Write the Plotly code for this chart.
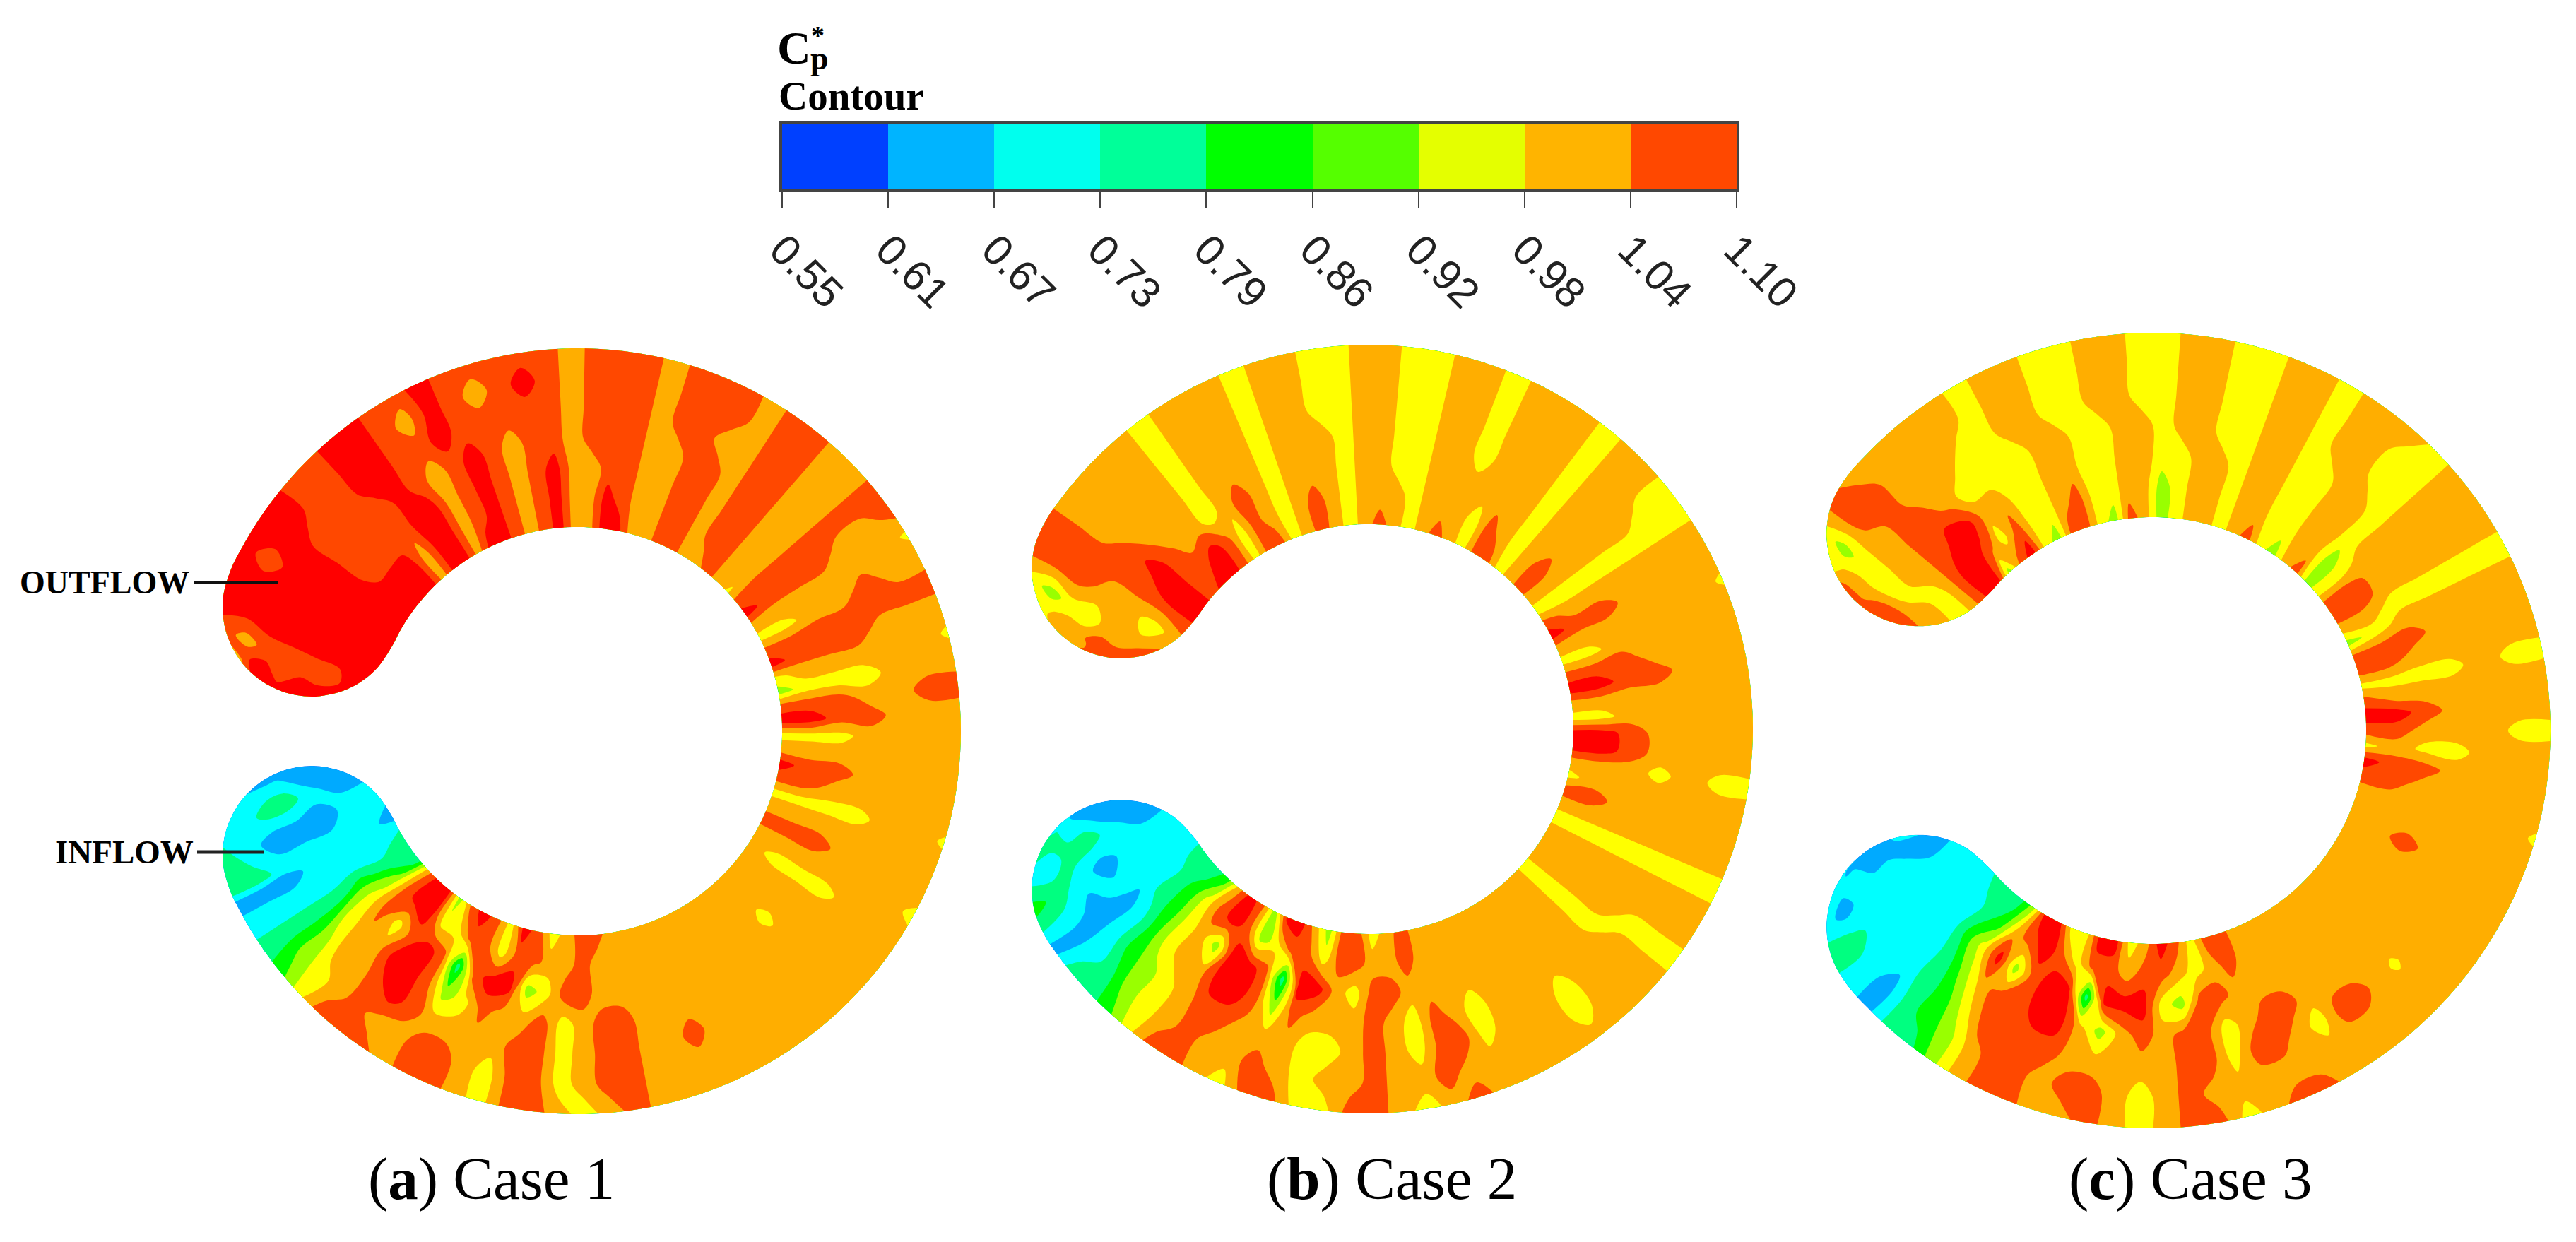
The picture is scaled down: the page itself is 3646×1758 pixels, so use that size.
import numpy as np
import plotly.graph_objects as go

# ---------- data ----------
# Each string = one radial ray, inner edge -> outer edge; each character is the Cp* read there.
# Digits are the colour bands; "a" and "b" are values only just inside the yellow band (thin streaks).
CP_BANDS = {"0": 0.581, "1": 0.642, "2": 0.703, "3": 0.764, "4": 0.825, "5": 0.886, "6": 0.947,
            "7": 1.008, "8": 1.069, "9": 1.130, "a": 0.968, "b": 0.959}
TICK_LABELS = ["0.55", "0.61", "0.67", "0.73", "0.79", "0.86", "0.92", "0.98", "1.04", "1.10"]
CAPTIONS = ["Case 1", "Case 2", "Case 3"]

CAP_TOP_1 = ["9999999", "9999999", "9998997", "9888878", "9999999"]
RAYS_1 = ["9999999", "9999989", "9999999", "9988899", "9988888", "9988888", "7788999", "9999999",
          "9998888", "7777878", "9888999", "9999888", "8888878", "7777888", "8888898", "9998888",
          "7777777", "7778888", "9988888", "9888888", "7777777", "7777888", "8888888", "8888788",
          "7777777", "7888888", "8888888", "7777777", "a777777", "8888888", "9888778", "777777a",
          "bb77877", "8888888", "9888777", "b77777a", "5666777", "8887788", "9988777", "bbb7777",
          "7777777", "9887777", "8877777", "bbbb77a", "7777777", "8887777", "777777b", "7bbb777",
          "7777777", "7777777", "77b7777", "7777777", "7777777", "7777777", "7777777", "7777777",
          "7777877", "7777777", "7777777", "7778888", "8778887", "8887776", "7786667", "6768888",
          "8857888", "9897766", "6698777", "8886788", "9835788", "8688877", "5699978", "9989888",
          "9967778", "7887766", "3566554", "3343333", "3222222", "2222111", "1222233"]
CAP_BOT_1 = ["2211123", "1123322", "1112222", "1111111", "1111111"]

CAP_TOP_2 = ["7777777", "8877777", "8887776", "8776656", "7677888"]
RAYS_2 = ["9988888", "9998777", "8887777", "9877777", "9977777", "8866666", "6677777", "8887777",
          "8777777", "6666666", "7777777", "8877777", "7777666", "6666666", "7777777", "8777777",
          "7766666", "6666666", "7777777", "8777777", "7776666", "6677777", "8877777", "8777777",
          "6666666", "7777777", "8877777", "7777766", "6666666", "8777777", "9887777", "777777a",
          "bb77777", "8887777", "9988777", "7777777", "bb77777", "9987777", "9987777", "777b7bb",
          "b777777", "8877777", "7777777", "6666666", "7777777", "7777777", "7777666", "6666777",
          "7777777", "7777777", "7777667", "7777777", "7777777", "7777777", "7776677", "7777878",
          "7778887", "8876676", "7787777", "6788888", "8867778", "8877676", "5697666", "7898778",
          "9835788", "9688776", "5599877", "8899888", "9957778", "7877666", "4666554", "3444433",
          "3332223", "3221111", "2222122"]
CAP_BOT_2 = ["2221234", "1123322", "1112233", "1111222", "1111122"]

CAP_TOP_3 = ["8888888", "8888888", "8887776", "7766656", "6677788"]
RAYS_3 = ["9988887", "9998777", "5897777", "8676777", "9876677", "6666666", "5666777", "8777777",
          "8877666", "6666666", "5666777", "8777777", "7777666", "5566666", "6667777", "7777777",
          "7776666", "6666666", "7777777", "8777777", "6666666", "5666777", "7777777", "8777667",
          "5566666", "6677777", "8877777", "8877777", "7766666", "5677777", "8887777", "8877777",
          "bbbb7bb", "8777777", "9987777", "88777bb", "b7bb777", "9887777", "8877777", "777777a",
          "7777777", "7787777", "7777777", "7777777", "7777777", "7777777", "7777a77", "7777777",
          "7777877", "7777877", "7777677", "7778778", "7778878", "8877877", "8786676", "6688878",
          "8758888", "9867777", "7898766", "6797777", "9895788", "9837787", "6699877", "6899888",
          "9988888", "9858877", "5797655", "3465443", "3343333", "3222211", "2222222"]
CAP_BOT_3 = ["2222233", "1122212", "2111222", "1111112", "1111112"]

# ray angles, degrees clockwise from straight up
THETA_1 = list(range(-65, 244, 4)) + [245]
THETA_2 = list(range(-57, 236, 4)) + [237]
THETA_3 = list(range(-50, 231, 4))

# ---------- styles and layout ----------
W, H = 3646, 1758
MAP_COLORS = ["#0040ff", "#00aaff", "#00ffff", "#00ff80", "#00ff00",
              "#99ff00", "#ffff00", "#ffae00", "#ff4800", "#ff0000"]
BAR_COLORS = ["#0040ff", "#00b4ff", "#00ffee", "#00ff99", "#00ff00",
              "#55ff00", "#e4ff00", "#ffb400", "#ff4800"]
LEVEL0, LEVEL_STEP = 0.55, 0.0611
PHI_TOP = [88, 75, 60, 40, 20]
PHI_BOT = [20, 40, 60, 75, 88]
RINGS = [
    dict(cx=818, cy=1035, R=542, r=289, cap_top=CAP_TOP_1, rays=RAYS_1, cap_bot=CAP_BOT_1, theta=THETA_1),
    dict(cx=1937, cy=1032, R=544, r=290, cap_top=CAP_TOP_2, rays=RAYS_2, cap_bot=CAP_BOT_2, theta=THETA_2),
    dict(cx=3047, cy=1034, R=563, r=302, cap_top=CAP_TOP_3, rays=RAYS_3, cap_bot=CAP_BOT_3, theta=THETA_3),
]


def stepped(colors):
    n = len(colors)
    out = []
    for i, c in enumerate(colors):
        out += [[i / n, c], [(i + 1) / n, c]]
    return out


def ring_grid(g):
    """Carpet nodes of the C shape: radial rays plus chords across the two round ends."""
    rm, rc = (g["R"] + g["r"]) / 2, (g["R"] - g["r"]) / 2
    s = np.linspace(-1, 1, 7)

    def ray(t):
        t = np.radians(t)
        return g["cx"] + (rm + rc * s) * np.sin(t), g["cy"] - (rm + rc * s) * np.cos(t)

    def chord(t, phi, sign):
        t, phi = np.radians(t), np.radians(phi)
        ux, uy = np.sin(t), -np.cos(t)
        vx, vy = sign * np.cos(t), sign * np.sin(t)
        x = g["cx"] + rm * ux + rc * (s * np.cos(phi) * ux + np.sin(phi) * vx)
        y = g["cy"] + rm * uy + rc * (s * np.cos(phi) * uy + np.sin(phi) * vy)
        return x, y

    th = g["theta"]
    nodes = [chord(th[0], p, -1) for p in PHI_TOP] + [ray(t) for t in th] + [chord(th[-1], p, 1) for p in PHI_BOT]
    rows = g["cap_top"] + g["rays"] + g["cap_bot"]
    assert len(nodes) == len(rows), (len(nodes), len(rows))
    x = np.array([n[0] for n in nodes])
    y = np.array([n[1] for n in nodes])
    z = np.array([[CP_BANDS[c] for c in row] for row in rows])
    return x, y, z


fig = go.Figure()
hidden = dict(showgrid=False, showticklabels="none", showline=False, startline=False, endline=False,
              minorgridcount=0, smoothing=1, color="rgba(0,0,0,0)",
              gridcolor="rgba(0,0,0,0)", linecolor="rgba(0,0,0,0)")
for i, g in enumerate(RINGS):
    x, y, z = ring_grid(g)
    a = list(range(x.shape[1]))
    b = list(range(x.shape[0]))
    fig.add_trace(go.Carpet(carpet=f"c{i}", a=a, b=b, x=x.tolist(), y=y.tolist(),
                            aaxis=hidden, baxis=hidden, xaxis="x", yaxis="y"))
    fig.add_trace(go.Contourcarpet(
        carpet=f"c{i}", a=a, b=b, z=z.tolist(), autocontour=False,
        contours=dict(start=LEVEL0 + LEVEL_STEP, end=LEVEL0 + 9 * LEVEL_STEP, size=LEVEL_STEP, coloring="fill"),
        line=dict(width=0, smoothing=1.0), colorscale=stepped(MAP_COLORS),
        zmin=LEVEL0, zmax=LEVEL0 + 10 * LEVEL_STEP, showscale=False, xaxis="x", yaxis="y"))

# colour bar as its own small axes
fig.add_trace(go.Heatmap(x=list(range(10)), y=[0, 1], z=[list(range(9))], xaxis="x2", yaxis="y2",
                         colorscale=stepped(BAR_COLORS), zmin=-0.5, zmax=8.5, showscale=False, hoverinfo="skip"))

serif = "Liberation Serif"
notes = [
    dict(x=1098, y=67, text="<b>C</b>", size=66, anchor="left"),
    dict(x=1146, y=50, text="<b>*</b>", size=38, anchor="left"),
    dict(x=1145, y=82, text="<b>p</b>", size=46, anchor="left"),
    dict(x=1100, y=135, text="<b>Contour</b>", size=57, anchor="left"),
    dict(x=26, y=824, text="<b>OUTFLOW</b>", size=46, anchor="left"),
    dict(x=76, y=1206, text="<b>INFLOW</b>", size=47, anchor="left"),
    dict(x=695, y=1668, text=f"(<b>a</b>) {CAPTIONS[0]}", size=85, anchor="center"),
    dict(x=1970, y=1668, text=f"(<b>b</b>) {CAPTIONS[1]}", size=85, anchor="center"),
    dict(x=3100, y=1668, text=f"(<b>c</b>) {CAPTIONS[2]}", size=85, anchor="center"),
]
annotations = [dict(x=n["x"], y=n["y"], xref="x", yref="y", text=n["text"], showarrow=False,
                    xanchor=n["anchor"], yanchor="middle", font=dict(family=serif, size=n["size"], color="black"))
               for n in notes]
shapes = [
    dict(type="line", xref="x", yref="y", x0=274, x1=393, y0=824, y1=824, layer="above", line=dict(color="#111", width=4)),
    dict(type="line", xref="x", yref="y", x0=279, x1=373, y0=1206, y1=1206, layer="above", line=dict(color="#222", width=5)),
]

fig.update_layout(
    width=W, height=H, margin=dict(l=0, r=0, t=0, b=0, pad=0, autoexpand=False), paper_bgcolor="white",
    plot_bgcolor="rgba(0,0,0,0)", showlegend=False, annotations=annotations, shapes=shapes,
    xaxis=dict(domain=[0, 1], range=[0, W], visible=False, fixedrange=True),
    yaxis=dict(domain=[0, 1], range=[H, 0], visible=False, fixedrange=True),
    xaxis2=dict(domain=[1107 / W, 2458 / W], range=[0, 9], anchor="y2", tickmode="array",
                tickvals=list(range(10)), ticktext=TICK_LABELS, tickangle=45, ticks="outside", ticklen=22,
                tickwidth=2, tickcolor="#444", showline=True, mirror=True, linecolor="#444", linewidth=4,
                showgrid=False, zeroline=False, tickfont=dict(family="Liberation Sans", size=60, color="#222")),
    yaxis2=dict(domain=[1 - 268 / H, 1 - 175 / H], range=[0, 1], anchor="x2", showticklabels=False, ticks="",
                showline=True, mirror=True, linecolor="#444", linewidth=4, showgrid=False, zeroline=False),
)
fig.write_html("out.html", config={"displayModeBar": False}, post_script="document.body.style.margin='0';")
